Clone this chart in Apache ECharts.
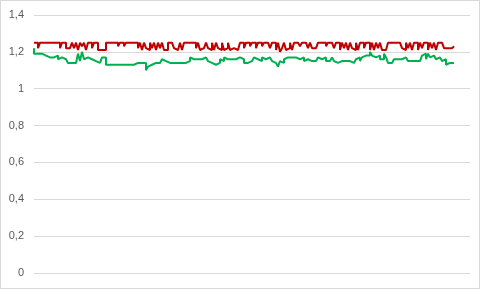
<!DOCTYPE html>
<html><head><meta charset="utf-8">
<script src="https://cdn.jsdelivr.net/npm/echarts@6/dist/echarts.min.js"></script>
<style>
html,body{margin:0;padding:0;background:#fff;}
#c{width:480px;height:289px;box-sizing:border-box;border:1px solid #d9d9d9;}
</style></head>
<body><div id="c"></div>
<script>
const categoryCount = 219;
const categories = Array.from({length: categoryCount}, (_, i) => String(i + 1));
const yTicks = [0, 0.2, 0.4, 0.6, 0.8, 1, 1.2, 1.4];
const redSeries = [
125,125,125,122,125,125,125,125,125,125,
125,125,125,125,122,125,125,122,122,122,
125,122,125,121,125,123,125,121,125,125,
122,125,125,121,121,122,121,125,125,125,
125,125,125,123,125,125,123,125,125,125,
125,125,125,122,125,121,125,122,121,125,
122,125,121,125,122,125,121,121,125,125,
125,122,121,122,125,121,125,125,125,125,
125,125,122,125,121,122,121,125,122,121,
125,121,125,122,121,125,121,122,125,121,
122,121,121,122,125,125,122,125,125,123,
125,125,122,125,125,123,125,125,125,122,
125,125,121,125,120,122,125,121,122,125,
121,125,125,125,123,125,125,125,122,125,
122,122,122,125,125,125,125,123,125,125,
125,122,125,125,121,125,122,125,121,125,
122,121,125,121,125,125,122,125,125,121,
125,121,125,122,125,121,121,122,125,125,
125,125,125,125,125,122,121,125,122,125,
121,125,125,121,125,122,125,125,121,125,
122,125,121,125,125,125,122,122,122,122,123
].map(v => v / 100);
const greenSeries = [
122,119,119,118,119,118,118,118,117,118,
117,117,118,116,117,117,116,117,114,114,
113,114,113,119,115,120,116,117,117,116,
116,115,114,114,114,117,117,113,113,113,
113,113,113,113,113,113,113,113,113,113,
113,113,114,114,114,114,114,110,112,113,
113,114,114,114,114,116,115,115,114,114,
114,114,114,114,114,114,114,114,115,117,
116,117,116,115,116,116,117,116,115,114,
114,113,113,114,116,115,117,116,117,116,
117,116,117,117,117,116,114,114,114,115,
116,117,116,117,115,117,116,116,117,116,
115,114,114,112,115,114,116,117,116,117,
116,117,118,116,115,117,115,116,117,115,
116,115,116,117,116,116,117,115,115,116,
117,115,114,113,115,114,115,114,115,116,
114,115,116,117,115,117,118,117,118,120,
118,117,117,118,116,116,119,117,114,114,
115,116,116,117,116,117,117,116,115,115,
116,115,114,115,114,118,119,116,119,117,
118,117,116,117,116,115,116,113,114,114,114
].map(v => v / 100);

const chart = echarts.init(document.getElementById('c'));
chart.setOption({
  animation: false,
  grid: {left: 33, right: 9, top: 14, bottom: 15, containLabel: false},
  xAxis: {
    type: 'category', data: categories, boundaryGap: false,
    axisLine: {show: true, lineStyle: {color: '#d9d9d9'}},
    axisTick: {show: false}, axisLabel: {show: false}, splitLine: {show: false}
  },
  yAxis: {
    type: 'value', min: yTicks[0], max: yTicks[yTicks.length - 1], interval: 0.2,
    axisLine: {show: false}, axisTick: {show: false},
    splitLine: {lineStyle: {color: '#d9d9d9', width: 1}},
    axisLabel: {
      color: '#595959', fontFamily: 'Liberation Sans', fontSize: 11, margin: 10,
      formatter: v => String(Math.round(v * 10) / 10).replace('.', ',')
    }
  },
  series: [
    {type: 'line', data: redSeries, step: 'start', showSymbol: false,
     lineStyle: {color: '#C00000', width: 2}, itemStyle: {color: '#C00000'}},
    {type: 'line', data: greenSeries, step: 'start', showSymbol: false,
     lineStyle: {color: '#00B050', width: 2}, itemStyle: {color: '#00B050'}}
  ]
});
</script></body></html>
